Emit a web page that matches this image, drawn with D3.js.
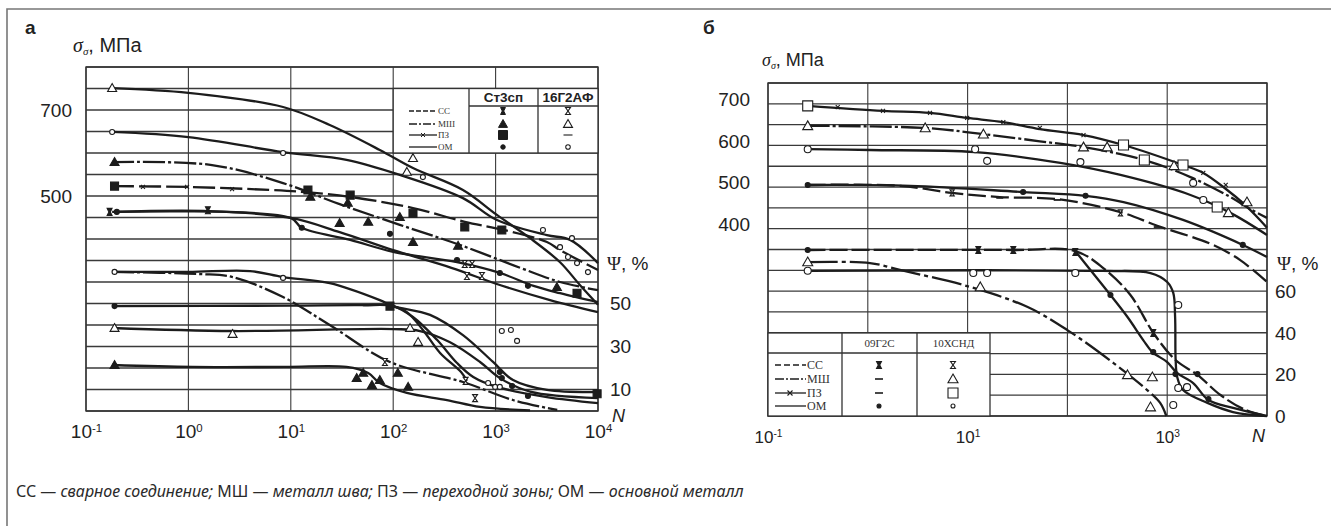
<!DOCTYPE html>
<html lang="ru">
<head>
<meta charset="UTF-8">
<title>Кривые σ и Ψ от N</title>
<script src="https://cdn.jsdelivr.net/npm/d3@7"></script>
<style>
  body { margin: 0; background: #fff; }
  svg { display: block; }
  .tk text { font-family: "Liberation Sans", Arial, sans-serif; fill: #222; }
  .tk path { display: none; }
  .ser { font-family: "Liberation Serif", "Times New Roman", serif; }
  .sans { font-family: "Liberation Sans", Arial, sans-serif; }
</style>
</head>
<body>
<svg id="chart" width="1331" height="526"></svg>
<script>
// ---------- панель а (Ст3сп, 16Г2АФ) ----------
var decadesA = [0.1, 1, 10, 100, 1000, 10000];
var sigTicksA = [500, 700];
var psiTicksA = [10, 30, 50];

// σ, МПа
var aSigMsh16 = [[0.18,751],[1,740],[8.4,707],[24,665],[74,607],[156,565],[480,514],[1030,456],[2170,402],[4260,346],[6650,293],[10000,247]];
var aSigOm16  = [[0.18,649],[1,637],[8.4,602],[35,584],[116,549],[480,495],[1030,444],[3170,409],[5340,398],[10000,344]];
var aSigMshSt = [[0.18,579],[1.7,572],[8.4,530],[30,481],[116,433],[450,386],[1740,333],[4260,300],[10000,281]];
var aSigPzSt  = [[0.18,523],[1,521],[6.3,514],[14,509],[38,498],[156,472],[500,440],[1200,421],[3170,393],[4260,374],[10000,328]];
var aSigCcSt  = [[0.18,463],[1.6,465],[10,449],[30,416],[100,374],[370,333],[1100,293],[3400,258],[10000,230]];
var aSigOmSt  = [[0.19,463],[10,449],[12.8,426],[38,398],[100,370],[420,346],[1100,321],[2350,291],[4260,274],[10000,253]];
// Ψ, %
var aPsiOm16  = [[0.18,64.7],[1,64.7],[4,65.1],[8.4,62.3],[24,59.5],[74,51.6],[100,48.8],[229,44.7],[480,35.3],[944,22.8],[1480,14.4],[3170,9.8],[10000,8.8]];
var aPsiCc16  = [[0.18,64.7],[1.3,63.7],[2.7,62.3],[8.4,53],[24,40],[93,22.8],[480,13.5],[1500,5],[4000,0.5]];
var aPsiOmSt  = [[0.18,48.8],[10,49],[50,49.2],[100,48.8],[156,43.7],[269,33],[420,22.3],[605,15.8],[1030,11.2],[3170,6.5],[10000,3.7]];
var aPsiCcSt  = [[100,48.8],[136,46],[195,37.7],[287,27],[460,18.1],[525,14]];
var aPsiMsh16 = [[0.18,38.6],[2.7,37.2],[100,38.1],[183,37.2],[359,32],[705,22.8],[1100,15.3],[2170,9],[10000,6]];
var aPsiMshSt = [[0.18,21.4],[1.1,20.5],[9,20.5],[35,20.5],[57,17.7],[74,13],[136,8.4],[335,5.1],[705,1.9],[2170,0.3]];

// точки, панель а
var aSigTriO = [[0.18,751],[156,588],[136,556]];
var aSigCirO = [[0.18,649],[8.4,600],[195,544],[2900,421],[5570,402],[4260,381],[5090,358],[6240,344],[7980,323]];
var aSigTriF = [[0.19,579],[15.5,498],[36,484],[30,437],[57,440],[116,451],[156,393],[430,384],[3970,288]];
var aSigSqF  = [[0.19,523],[14.7,514],[38,502],[156,460],[500,428],[1150,421],[6240,274]];
var aSigCirF = [[0.2,463],[12.8,426],[93,412],[420,351],[1100,321],[2070,291]];
var aSigHgF  = [[0.17,463],[1.55,467]];
var aSigHgO  = [[500,342],[590,342],[525,314],[736,314]];
var aSigX    = [[0.36,521],[0.97,521],[2.67,516]];
var aPsiCirO = [[0.19,64.7],[8.4,61.9],[1150,37.2],[1410,37.7],[1620,32.6],[845,13],[990,11.2],[1100,11.2]];
var aPsiTriO = [[0.19,38.6],[2.7,35.8],[146,38.6],[175,32.1]];
var aPsiTriF = [[0.19,21.4],[44,15.3],[51,17.7],[62,12.1],[74,14.4],[111,17.7],[140,11.2]];
var aPsiCirF = [[0.19,48.8],[1100,18.1],[1150,15.3],[1450,11.6],[2070,7]];
var aPsiSqF  = [[93,48.8],[9800,8]];
var aPsiHgO  = [[83,22.8],[510,14],[630,6]];

// ---------- панель б (09Г2С, 10ХСНД) ----------
var decadesB = [0.1, 1, 10, 100, 1000, 10000];
var labelDecB = [0.1, 10, 1000];
var sigTicksB = [400, 500, 600, 700];
var psiTicksB = [0, 20, 40, 60];

var bSigPz10  = [[0.25,695],[1.42,683],[4.2,678],[9.9,666],[22.8,656],[53,639],[145,625],[365,601],[1440,553],[2300,534],[3990,493],[5720,462],[8500,421],[10000,402]];
var bSigMsh10 = [[0.25,647],[3.76,642],[14.5,627],[53,610],[145,596],[590,565],[1710,524],[4300,476],[6820,447],[10000,426]];
var bSigOm10  = [[0.25,591],[1.05,589],[11.9,584],[85,558],[340,529],[1710,481],[4300,438],[10000,385]];
var bSigCc    = [[0.25,505],[2.1,503],[7,486],[21,476],[79,471],[340,440],[795,407],[2700,364],[5350,325],[10000,272]];
var bSigOm09  = [[0.25,505],[2.66,503],[36,488],[152,479],[365,464],[1440,421],[5720,361],[10000,332]];
var bPsiCc09  = [[0.25,80],[28.7,80],[120,79.5],[229,71.3],[428,58.3],[728,40],[1210,27],[2010,19.8],[3420,10.1],[6080,2.9],[10000,0]];
var bPsiOm09  = [[120,79.5],[170,70.4],[270,58.3],[400,47.7],[575,36.6],[710,30.8],[1000,26],[1260,20.7],[1820,15.9],[2590,7.7],[4570,3.9],[10000,0]];
var bPsiOm10  = [[0.25,70],[229,69.9],[680,68.9],[1000,64.6],[1150,59.3],[1200,47.7],[1215,27],[1260,18.8],[1440,12.5],[2530,6.3],[4570,1.9],[10000,0]];
var bPsiMsh10 = [[0.25,74.2],[1.05,73.7],[2.1,70.4],[10.6,62.2],[40,52.5],[100,41.4],[290,25.5],[630,12.5],[850,6.3],[980,0]];

var bSigSqO  = [[0.25,695],[365,601],[590,565],[1440,553],[3170,452]];
var bSigX    = [[0.5,692],[1.42,683],[4.2,678],[9.9,666],[22.8,656],[53,642],[145,625],[2300,534],[3860,505],[5720,462]];
var bSigTriO = [[0.25,647],[3.76,642],[14.4,627],[145,596],[250,596],[1170,551],[6300,464],[4100,438]];
var bSigCirO = [[0.25,591],[11.9,591],[15.7,563],[135,560],[1820,510],[2300,469]];
var bSigCirF = [[0.25,505],[36,488],[152,479],[5720,361]];
var bSigHgO  = [[7,486],[340,438]];
var bSigDash = [[21,474],[79,469],[795,404]];
var bPsiCirO = [[0.25,70],[11.4,68.9],[15.7,68.9],[120,68.9],[1290,53.5],[1150,5.3],[1290,13.5],[1580,13.9]];
var bPsiTriO = [[0.25,74.2],[13.4,62.2],[400,19.8],[710,18.8],[680,4.3]];
var bPsiCirF = [[0.25,80],[270,58.3],[725,30.8],[1210,20.2],[2010,20.2],[2590,8.2]];
var bPsiHgF  = [[12.8,80],[28.7,80],[120,79],[725,40]];

var legendRows = ["СС", "МШ", "ПЗ", "ОМ"];
var steelsA = ["Ст3сп", "16Г2АФ"];
var steelsB = ["09Г2С", "10ХСНД"];

// ---------- рисование ----------
var svg = d3.select("#chart");
var ink = "#1c1c1c";
var dashes = { cc: "14,4", msh: "22,3,3,3", solid: null };

var line = function (xs, ys) {
  return d3.line().x(function (d) { return xs(d[0]); }).y(function (d) { return ys(d[1]); })
    .curve(d3.curveCatmullRom.alpha(0.5));
};

function sym(type, s) {
  var h = s / 2;
  if (type == "tri") return "M0," + (-h) + "L" + h + "," + (h * 0.75) + "L" + (-h) + "," + (h * 0.75) + "Z";
  if (type == "sq") return "M" + (-h) + "," + (-h) + "H" + h + "V" + h + "H" + (-h) + "Z";
  if (type == "hgF") return "M" + (-h * .7) + "," + (-h) + "H" + (h * .7) + "L" + (h * .2) + ",0L" + (h * .7) + "," + h + "H" + (-h * .7) + "L" + (-h * .2) + ",0Z";
  if (type == "hgO") return "M" + (-h * .7) + "," + (-h) + "H" + (h * .7) + "L" + (-h * .7) + "," + h + "H" + (h * .7) + "Z";
  if (type == "dash") return "M" + (-h) + ",0H" + h;
  if (type == "x") return "M" + (-h) + "," + (-h) + "L" + h + "," + h + "M" + (-h) + "," + h + "L" + h + "," + (-h);
  return "";
}

function markers(g, data, xs, ys, type, filled, size) {
  var sel = g.append("g").selectAll("path").data(data).enter().append("path")
    .attr("transform", function (d) { return "translate(" + xs(d[0]) + "," + ys(d[1]) + ")"; });
  if (type == "cir") {
    sel.attr("d", d3.symbol().type(d3.symbolCircle).size(Math.PI * size * size / 4));
  } else {
    sel.attr("d", sym(type, size));
  }
  sel.attr("fill", filled ? ink : (type == "dash" || type == "x" ? "none" : "#fff"))
    .attr("stroke", ink).attr("stroke-width", type == "dash" ? 1.8 : 1.1);
}

function curve(g, data, xs, ys, dash, w) {
  g.append("path").datum(data).attr("d", line(xs, ys))
    .attr("fill", "none").attr("stroke", ink).attr("stroke-width", w || 2.3)
    .attr("stroke-dasharray", dash).attr("stroke-linecap", "butt");
}

function grid(g, xs, ys, hVals, decs) {
  var x0 = xs.range()[0], x1 = xs.range()[1];
  var y0 = ys.range()[0], y1 = ys.range()[1];
  g.append("g").selectAll("line").data(hVals).enter().append("line")
    .attr("x1", x0).attr("x2", x1).attr("y1", ys).attr("y2", ys)
    .attr("stroke", "#3a3a3a").attr("stroke-width", 1.3);
  g.append("g").selectAll("line").data(decs).enter().append("line")
    .attr("x1", xs).attr("x2", xs).attr("y1", y0).attr("y2", y1)
    .attr("stroke", "#3a3a3a").attr("stroke-width", 1.1);
  g.append("rect").attr("x", x0).attr("y", y1).attr("width", x1 - x0).attr("height", y0 - y1)
    .attr("fill", "none").attr("stroke", "#333").attr("stroke-width", 1.4);
}

function powLabels(axisG, fs) {
  axisG.selectAll(".tick text").each(function (d) {
    var t = d3.select(this);
    t.text(null).attr("font-size", fs);
    t.append("tspan").text("10");
    t.append("tspan").attr("dy", "-0.55em").attr("font-size", (fs * 0.6) + "px").text(Math.round(Math.log10(d)));
  });
}

// рамка
svg.append("path").attr("d", "M7,526V9H1331").attr("fill", "none").attr("stroke", "#777").attr("stroke-width", 1.6);

// ===== панель а =====
var xA = d3.scaleLog().domain([0.1, 10000]).range([86, 598]);
var sA = d3.scaleLinear().domain([0, 800]).range([411, 67]);
var pA = d3.scaleLinear().domain([0, 80]).range([411, 239]);
var gA = svg.append("g");
grid(gA, xA, sA, d3.range(0, 801, 50), decadesA);

// таблица-легенда а
var tA = { x0: xA(100), x1: xA(10000), y0: sA(750), y1: sA(600), c1: 469, c2: 538, hy: 106 };
gA.append("rect").attr("x", tA.x0).attr("y", tA.y0).attr("width", tA.x1 - tA.x0).attr("height", tA.y1 - tA.y0)
  .attr("fill", "#fff").attr("stroke", "#333").attr("stroke-width", 1.3);
gA.append("path").attr("d", "M" + tA.c1 + "," + tA.y0 + "V" + tA.y1 + "M" + tA.c2 + "," + tA.y0 + "V" + tA.y1 + "M" + tA.c1 + "," + tA.hy + "H" + tA.x1)
  .attr("stroke", "#333").attr("stroke-width", 1.3).attr("fill", "none");
gA.selectAll(".hdA").data(steelsA).enter().append("text").attr("class", "sans")
  .attr("x", function (d, i) { return i ? (tA.c2 + tA.x1) / 2 : (tA.c1 + tA.c2) / 2; })
  .attr("y", 102).attr("text-anchor", "middle").attr("font-weight", "bold").attr("font-size", 13.5)
  .attr("fill", "#222").text(function (d) { return d; });
var rowYA = [111, 124, 135, 147];
rowYA.forEach(function (y, i) {
  gA.append("line").attr("x1", 409).attr("x2", 437).attr("y1", y).attr("y2", y)
    .attr("stroke", ink).attr("stroke-width", 1.3).attr("stroke-dasharray", i == 0 ? "5,2" : (i == 1 ? "8,2,2,2" : null));
  gA.append("text").attr("class", "ser").attr("x", 438).attr("y", y + 3).attr("font-size", 9)
    .attr("fill", "#333").text(legendRows[i]);
});
gA.append("path").attr("transform", "translate(423,135)").attr("d", sym("x", 4)).attr("stroke", ink).attr("stroke-width", 1);
var symA1 = [["hgF", 1], ["tri", 1], ["sq", 1], ["cir", 1]];
var symA2 = [["hgO", 0], ["tri", 0], ["dash", 0], ["cir", 0]];
rowYA.forEach(function (y, i) {
  var a = symA1[i], b = symA2[i];
  var p1 = gA.append("path").attr("transform", "translate(" + 503 + "," + y + ")");
  p1.attr("d", a[0] == "cir" ? d3.symbol().type(d3.symbolCircle).size(16) : sym(a[0], i == 0 ? 7 : 9)).attr("fill", ink).attr("stroke", ink);
  var p2 = gA.append("path").attr("transform", "translate(" + 568 + "," + y + ")");
  p2.attr("d", b[0] == "cir" ? d3.symbol().type(d3.symbolCircle).size(16) : sym(b[0], i == 0 ? 7 : 9))
    .attr("fill", b[0] == "dash" ? "none" : "#fff").attr("stroke", ink).attr("stroke-width", 1.1);
});

// кривые а
curve(gA, aSigMsh16, xA, sA, null);
curve(gA, aSigOm16, xA, sA, null);
curve(gA, aSigMshSt, xA, sA, dashes.msh);
curve(gA, aSigPzSt, xA, sA, "22,5");
curve(gA, aSigCcSt, xA, sA, null);
curve(gA, aSigOmSt, xA, sA, null);
curve(gA, aPsiOm16, xA, pA, null);
curve(gA, aPsiCc16, xA, pA, dashes.msh);
curve(gA, aPsiOmSt, xA, pA, null);
curve(gA, aPsiCcSt, xA, pA, null);
curve(gA, aPsiMsh16, xA, pA, null);
curve(gA, aPsiMshSt, xA, pA, null);

markers(gA, aSigTriO, xA, sA, "tri", false, 9);
markers(gA, aSigCirO, xA, sA, "cir", false, 5);
markers(gA, aSigTriF, xA, sA, "tri", true, 9);
markers(gA, aSigSqF, xA, sA, "sq", true, 8);
markers(gA, aSigCirF, xA, sA, "cir", true, 5);
markers(gA, aSigHgF, xA, sA, "hgF", true, 7);
markers(gA, aSigHgO, xA, sA, "hgO", false, 7);
markers(gA, aSigX, xA, sA, "x", false, 4);
markers(gA, aPsiCirO, xA, pA, "cir", false, 5);
markers(gA, aPsiTriO, xA, pA, "tri", false, 9);
markers(gA, aPsiTriF, xA, pA, "tri", true, 9);
markers(gA, aPsiCirF, xA, pA, "cir", true, 5);
markers(gA, aPsiSqF, xA, pA, "sq", true, 8);
markers(gA, aPsiHgO, xA, pA, "hgO", false, 7);

// оси а
gA.append("g").attr("class", "tk").attr("transform", "translate(" + xA(0.1) + ",0)")
  .call(d3.axisLeft(sA).tickValues(sigTicksA).tickSize(0).tickPadding(14))
  .selectAll("text").attr("font-size", 19);
gA.append("g").attr("class", "tk").attr("transform", "translate(" + xA(10000) + ",0)")
  .call(d3.axisRight(pA).tickValues(psiTicksA).tickSize(0).tickPadding(12))
  .selectAll("text").attr("font-size", 19);
var axA = gA.append("g").attr("class", "tk").attr("transform", "translate(0," + sA(0) + ")")
  .call(d3.axisBottom(xA).tickValues(decadesA).tickSize(0).tickPadding(14));
powLabels(axA, 19);

svg.append("text").attr("class", "sans").attr("x", 25).attr("y", 34).attr("font-size", 19).attr("font-weight", "bold").attr("fill", "#222").text("а");
var sgA = svg.append("text").attr("x", 73).attr("y", 52).attr("font-size", 20).attr("fill", "#222");
sgA.append("tspan").attr("class", "ser").attr("font-style", "italic").text("σ");
sgA.append("tspan").attr("class", "ser").attr("font-style", "italic").attr("font-size", 11).attr("dy", 3).text("σ");
sgA.append("tspan").attr("class", "sans").attr("dy", -3).text(", МПа");
var psA = svg.append("text").attr("x", 607).attr("y", 270).attr("font-size", 19).attr("fill", "#222");
psA.append("tspan").attr("class", "ser").text("Ψ");
psA.append("tspan").attr("class", "sans").text(", %");
svg.append("text").attr("class", "sans").attr("x", 612).attr("y", 422).attr("font-size", 18).attr("font-style", "italic").attr("fill", "#222").text("N");

// ===== панель б =====
var xB = d3.scaleLog().domain([0.1, 10000]).range([768, 1267]);
var sB = d3.scaleLinear().domain([-50, 750]).range([416, 83]);
var pB = d3.scaleLinear().domain([0, 80]).range([416, 250]);
var gB = svg.append("g");
grid(gB, xB, sB, d3.range(-50, 751, 50), decadesB);

// таблица-легенда б
var tB = { x0: xB(0.1), x1: 990, y0: pB(40), y1: pB(0), c1: 842, c2: 917, hy: 353 };
gB.append("rect").attr("x", tB.x0).attr("y", tB.y0).attr("width", tB.x1 - tB.x0).attr("height", tB.y1 - tB.y0)
  .attr("fill", "#fff").attr("stroke", "#333").attr("stroke-width", 1.3);
gB.append("path").attr("d", "M" + tB.c1 + "," + tB.y0 + "V" + tB.y1 + "M" + tB.c2 + "," + tB.y0 + "V" + tB.y1 + "M" + tB.x0 + "," + tB.hy + "H" + tB.x1)
  .attr("stroke", "#333").attr("stroke-width", 1.3).attr("fill", "none");
gB.selectAll(".hdB").data(steelsB).enter().append("text").attr("class", "ser")
  .attr("x", function (d, i) { return i ? (tB.c2 + tB.x1) / 2 : (tB.c1 + tB.c2) / 2; })
  .attr("y", 347).attr("text-anchor", "middle").attr("font-size", 11).attr("fill", "#333")
  .text(function (d) { return d; });
var rowYB = [365, 379, 393, 406];
rowYB.forEach(function (y, i) {
  gB.append("line").attr("x1", 775).attr("x2", 806).attr("y1", y).attr("y2", y)
    .attr("stroke", ink).attr("stroke-width", 1.3).attr("stroke-dasharray", i == 0 ? "6,3" : (i == 1 ? "9,2,2,2" : null));
  gB.append("text").attr("class", "ser").attr("x", 807).attr("y", y + 4).attr("font-size", 12)
    .attr("fill", "#333").text(legendRows[i]);
});
gB.append("path").attr("transform", "translate(790,393)").attr("d", sym("x", 5)).attr("stroke", ink).attr("stroke-width", 1.1);
var symB1 = [["hgF", 1, 7], ["dash", 1, 8], ["dash", 1, 8], ["cir", 1, 4]];
var symB2 = [["hgO", 0, 7], ["tri", 0, 10], ["sq", 0, 10], ["cir", 0, 4]];
rowYB.forEach(function (y, i) {
  [[symB1[i], 879], [symB2[i], 953]].forEach(function (pr) {
    var s = pr[0];
    gB.append("path").attr("transform", "translate(" + pr[1] + "," + y + ")")
      .attr("d", s[0] == "cir" ? d3.symbol().type(d3.symbolCircle).size(Math.PI * s[2] * s[2] / 4) : sym(s[0], s[2]))
      .attr("fill", s[1] ? (s[0] == "dash" ? "none" : ink) : "#fff").attr("stroke", ink).attr("stroke-width", s[0] == "dash" ? 1.6 : 1.1);
  });
});

// кривые б
curve(gB, bSigPz10, xB, sB, null);
curve(gB, bSigMsh10, xB, sB, dashes.msh);
curve(gB, bSigOm10, xB, sB, null);
curve(gB, bSigCc, xB, sB, "18,5");
curve(gB, bSigOm09, xB, sB, null);
curve(gB, bPsiCc09, xB, pB, "18,4");
curve(gB, bPsiOm09, xB, pB, null);
curve(gB, bPsiOm10, xB, pB, null);
curve(gB, bPsiMsh10, xB, pB, "30,4,4,4");

markers(gB, bSigSqO, xB, sB, "sq", false, 10);
markers(gB, bSigX, xB, sB, "x", false, 4);
markers(gB, bSigTriO, xB, sB, "tri", false, 10);
markers(gB, bSigCirO, xB, sB, "cir", false, 7);
markers(gB, bSigCirF, xB, sB, "cir", true, 5);
markers(gB, bSigHgO, xB, sB, "hgO", false, 6);
markers(gB, bSigDash, xB, sB, "dash", false, 7);
markers(gB, bPsiCirO, xB, pB, "cir", false, 7);
markers(gB, bPsiTriO, xB, pB, "tri", false, 10);
markers(gB, bPsiCirF, xB, pB, "cir", true, 5);
markers(gB, bPsiHgF, xB, pB, "hgF", true, 7);

// оси б
gB.append("g").attr("class", "tk").attr("transform", "translate(" + xB(0.1) + ",0)")
  .call(d3.axisLeft(sB).tickValues(sigTicksB).tickSize(0).tickPadding(18))
  .selectAll("text").attr("font-size", 19).attr("dy", "0.1em");
gB.append("g").attr("class", "tk").attr("transform", "translate(" + xB(10000) + ",0)")
  .call(d3.axisRight(pB).tickValues(psiTicksB).tickSize(0).tickPadding(8))
  .selectAll("text").attr("font-size", 19);
var axB = gB.append("g").attr("class", "tk").attr("transform", "translate(0," + pB(0) + ")")
  .call(d3.axisBottom(xB).tickValues(labelDecB).tickSize(0).tickPadding(15));
powLabels(axB, 17);

svg.append("text").attr("class", "sans").attr("x", 703).attr("y", 34).attr("font-size", 19).attr("font-weight", "bold").attr("fill", "#222").text("б");
var sgB = svg.append("text").attr("x", 762).attr("y", 66).attr("font-size", 18).attr("fill", "#222");
sgB.append("tspan").attr("class", "ser").attr("font-style", "italic").text("σ");
sgB.append("tspan").attr("class", "ser").attr("font-style", "italic").attr("font-size", 10).attr("dy", 3).text("σ");
sgB.append("tspan").attr("class", "sans").attr("dy", -3).text(", МПа");
var psB = svg.append("text").attr("x", 1277).attr("y", 270).attr("font-size", 19).attr("fill", "#222");
psB.append("tspan").attr("class", "ser").text("Ψ");
psB.append("tspan").attr("class", "sans").text(", %");
svg.append("text").attr("class", "sans").attr("x", 1252).attr("y", 442).attr("font-size", 18).attr("font-style", "italic").attr("fill", "#222").text("N");

// подпись
var notes = [["СС", "сварное соединение;"], ["МШ", "металл шва;"], ["ПЗ", "переходной зоны;"], ["ОМ", "основной металл"]];
var foot = svg.append("text").attr("x", 16).attr("y", 497).attr("font-family", "'Noto Sans', 'Open Sans', sans-serif")
  .attr("font-size", 16).attr("fill", "#2a2a2a");
notes.forEach(function (n, i) {
  foot.append("tspan").text((i ? " " : "") + n[0] + " \u2014 ");
  foot.append("tspan").attr("font-style", "italic").text(n[1]);
});
</script>
</body>
</html>
